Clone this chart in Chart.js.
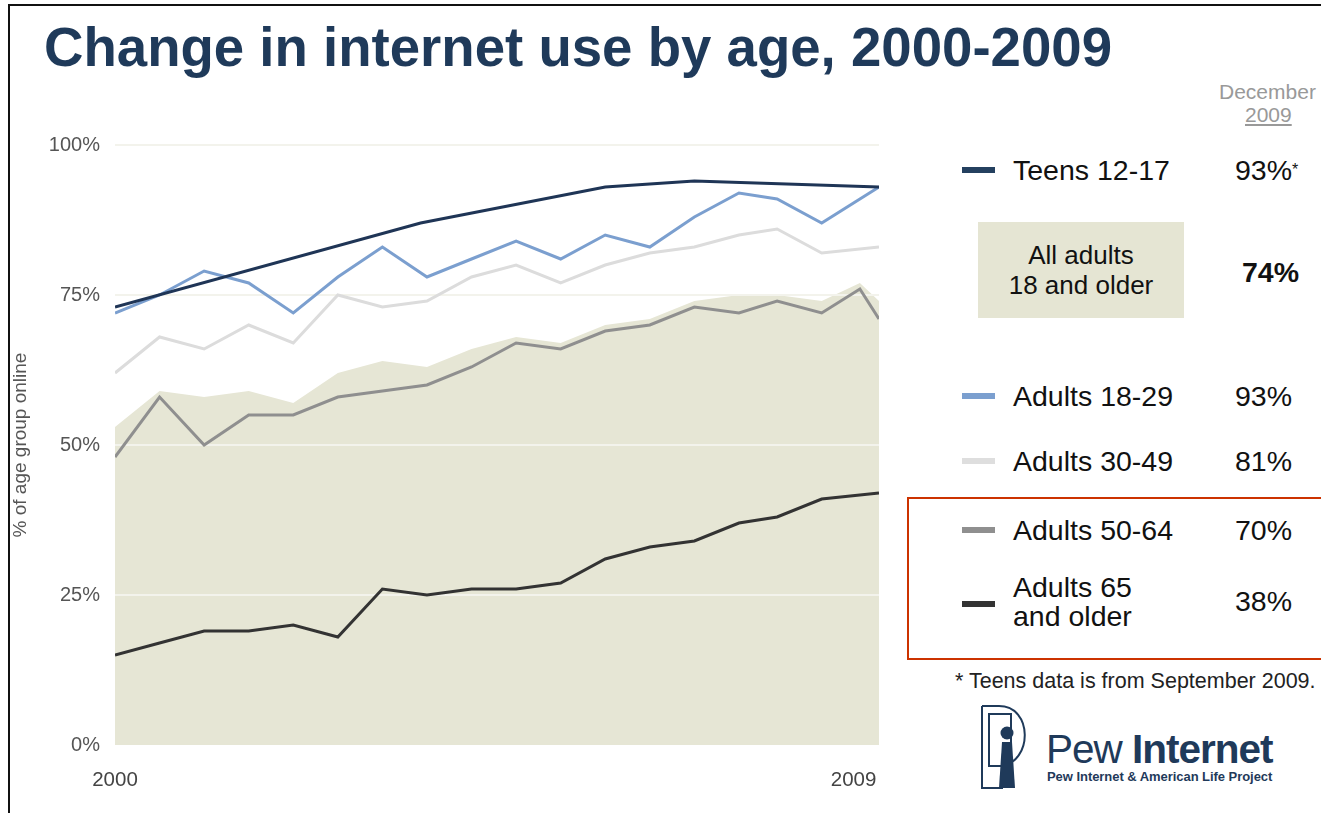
<!DOCTYPE html>
<html>
<head>
<meta charset="utf-8">
<script src="https://cdn.jsdelivr.net/npm/chart.js@4"></script>
<style>
  body { margin: 0; width: 1321px; height: 813px; overflow: hidden; background: #fff; font-family: "Liberation Sans", Arial, sans-serif; position: relative; }
  .frame { position: absolute; left: 8px; top: 4px; width: 1313px; height: 809px; border-top: 2px solid #111; border-left: 2px solid #111; }
  .title { position: absolute; left: 44px; top: 20px; font-size: 54.6px; line-height: 56px; font-weight: bold; color: #1f3a5a; white-space: nowrap; }
  #wrap { position: absolute; left: 0; top: 0; width: 900px; height: 813px; }
  .t { position: absolute; white-space: nowrap; color: #111; }
  .sw { position: absolute; width: 33px; height: 6px; }
  .leg { font-size: 28.5px; line-height: 30px; }
  .box { position: absolute; left: 978px; top: 222px; width: 206px; height: 96px; background: #e5e5d3; text-align: center; font-size: 26px; line-height: 30px; color: #111; display: flex; align-items: center; justify-content: center; }
  .redbox { position: absolute; left: 907px; top: 497px; width: 430px; height: 159px; border: 2px solid #cc3300; }
</style>
</head>
<body>
<div class="frame"></div>
<div class="title">Change in internet use by age, 2000-2009</div>
<div id="wrap"><canvas id="chart" width="900" height="813"></canvas></div>

<div class="t" style="left:1219px; top:80px; font-size:21px; line-height:24px; color:#999;">December</div>
<div class="t" style="left:1245px; top:103px; font-size:21px; line-height:24px; color:#999; text-decoration:underline;">2009</div>

<div class="sw" style="left:962px; top:167px; background:#24405f;"></div>
<div class="t leg" style="left:1013px; top:155px;">Teens 12-17</div>
<div class="t leg" style="left:1235px; top:155px;">93%<span style="font-size:16px; vertical-align:top;">*</span></div>

<div class="box"><div>All adults<br>18 and older</div></div>
<div class="t leg" style="left:1242px; top:257px; font-weight:bold;">74%</div>

<div class="redbox"></div>

<div class="sw" style="left:962px; top:393px; background:#7b9fcf;"></div>
<div class="t leg" style="left:1013px; top:381px;">Adults 18-29</div>
<div class="t leg" style="left:1235px; top:381px;">93%</div>

<div class="sw" style="left:962px; top:458px; background:#dedede;"></div>
<div class="t leg" style="left:1013px; top:446px;">Adults 30-49</div>
<div class="t leg" style="left:1235px; top:446px;">81%</div>

<div class="sw" style="left:962px; top:527px; background:#8f8f8f;"></div>
<div class="t leg" style="left:1013px; top:515px;">Adults 50-64</div>
<div class="t leg" style="left:1235px; top:515px;">70%</div>

<div class="sw" style="left:962px; top:601px; background:#333;"></div>
<div class="t leg" style="left:1013px; top:573px; line-height:29px;">Adults 65<br>and older</div>
<div class="t leg" style="left:1235px; top:586px;">38%</div>

<div class="t" style="left:955px; top:669px; font-size:21.5px; line-height:24px; color:#222;">* Teens data is from September 2009.</div>

<svg style="position:absolute; left:975px; top:700px;" width="60" height="92" viewBox="0 0 60 92">
  <g fill="none" stroke="#1f3a5a" stroke-width="2">
    <path d="M7 6 L7 88 L28 88"/>
    <path d="M7 6 L24 6 C58 6 58 62 26 66"/>
    <rect x="14" y="14" width="22" height="52"/>
  </g>
  <circle cx="32" cy="33" r="6.5" fill="#1f3a5a"/>
  <path d="M27 42 L37 42 L40 88 L24 88 Z" fill="#1f3a5a"/>
</svg>
<div class="t" style="left:1046px; top:728px; font-size:40.5px; line-height:42px; color:#1f3a5a; letter-spacing:-1px;">Pew <b>Internet</b></div>
<div class="t" style="left:1047px; top:769px; font-size:13px; line-height:15px; color:#1f3a5a; font-weight:bold; letter-spacing:-0.05px;">Pew Internet &amp; American Life Project</div>

<script>
// months since Jan 2000 for each survey point
const months = [0, 7, 14, 21, 28, 35, 42, 49, 56, 63, 70, 77, 84, 91, 98, 104, 111, 120];
const adultMonths = [0, 7, 14, 21, 28, 35, 42, 49, 56, 63, 70, 77, 84, 91, 98, 104, 111, 117, 120];
const teenMonths = [0, 48, 77, 91, 120];

const teens = [73, 87, 93, 94, 93];
const adults18to29 = [72, 75, 79, 77, 72, 78, 83, 78, 81, 84, 81, 85, 83, 88, 92, 91, 87, 93];
const adults30to49 = [62, 68, 66, 70, 67, 75, 73, 74, 78, 80, 77, 80, 82, 83, 85, 86, 82, 83];
const adults50to64 = [48, 58, 50, 55, 55, 58, 59, 60, 63, 67, 66, 69, 70, 73, 72, 74, 72, 76, 71];
const adults65plus = [15, 17, 19, 19, 20, 18, 26, 25, 26, 26, 27, 31, 33, 34, 37, 38, 41, 42];
const allAdults = [53, 59, 58, 59, 57, 62, 64, 63, 66, 68, 67, 70, 71, 74, 75, 75, 74, 77, 74];

const xTickValues = [0, 116];
const xTickLabels = ['2000', '2009'];
const yTicks = [0, 25, 50, 75, 100];

const pts = (xs, ys) => ys.map((y, i) => ({ x: xs[i], y: y }));

const GRID = '#ebebeb';

// redraw horizontal grid on top of the beige area, under the lines
const gridOverFill = {
  id: 'gridOverFill',
  afterDatasetDraw(chart, args) {
    if (args.index !== 0) return;
    const ctx = chart.ctx, area = chart.chartArea, y = chart.scales.y;
    ctx.save();
    ctx.strokeStyle = '#f3f3ec';
    ctx.lineWidth = 2;
    yTicks.forEach(v => {
      if (v === 0) return;
      const py = Math.round(y.getPixelForValue(v));
      ctx.beginPath();
      ctx.moveTo(area.left, py);
      ctx.lineTo(area.right, py);
      ctx.stroke();
    });
    ctx.restore();
  }
};

const line = (label, xs, ys, color, order) => ({
  label: label,
  data: pts(xs, ys),
  borderColor: color,
  borderWidth: 3,
  pointRadius: 0,
  fill: false,
  tension: 0,
  order: order
});

new Chart(document.getElementById('chart'), {
  type: 'line',
  data: {
    datasets: [
      {
        label: 'All adults 18 and older',
        data: pts(adultMonths, allAdults),
        backgroundColor: '#e6e6d5',
        borderWidth: 0,
        pointRadius: 0,
        fill: 'origin',
        order: 10
      },
      line('Adults 30-49', months, adults30to49, '#dcdcdc', 5),
      line('Adults 50-64', adultMonths, adults50to64, '#8f8f8f', 4),
      line('Adults 65 and older', months, adults65plus, '#333333', 3),
      line('Adults 18-29', months, adults18to29, '#7b9fcf', 2),
      line('Teens 12-17', teenMonths, teens, '#1f3556', 1)
    ]
  },
  options: {
    responsive: false,
    animation: false,
    devicePixelRatio: 1,
    layout: { padding: { top: 145, right: 20, left: 0, bottom: 0 } },
    plugins: { legend: { display: false }, tooltip: { enabled: false } },
    scales: {
      x: {
        type: 'linear',
        min: 0,
        max: 120,
        grid: { display: false, drawTicks: false },
        border: { display: false },
        afterBuildTicks: s => { s.ticks = xTickValues.map(v => ({ value: v })); },
        afterFit: s => { s.height = 68; },
        ticks: {
          autoSkip: false,
          maxRotation: 0,
          padding: 23,
          color: '#444',
          font: { family: 'Liberation Sans', size: 20.5 },
          callback: (v, i) => xTickLabels[i]
        }
      },
      y: {
        min: 0,
        max: 100,
        afterBuildTicks: s => { s.ticks = yTicks.map(v => ({ value: v })); },
        afterFit: s => { s.width = 115; },
        grid: {
          color: ctx => ctx.tick && ctx.tick.value === 0 ? 'rgba(0,0,0,0)' : GRID,
          lineWidth: 2,
          drawTicks: false
        },
        border: { display: false },
        ticks: {
          padding: 15,
          color: '#555',
          font: { family: 'Liberation Sans', size: 20 },
          callback: v => v + '%'
        },
        title: {
          display: true,
          text: '% of age group online',
          color: '#555',
          font: { family: 'Liberation Sans', size: 19 },
          padding: { top: 9, bottom: 0 }
        }
      }
    }
  },
  plugins: [gridOverFill]
});
</script>
</body>
</html>
